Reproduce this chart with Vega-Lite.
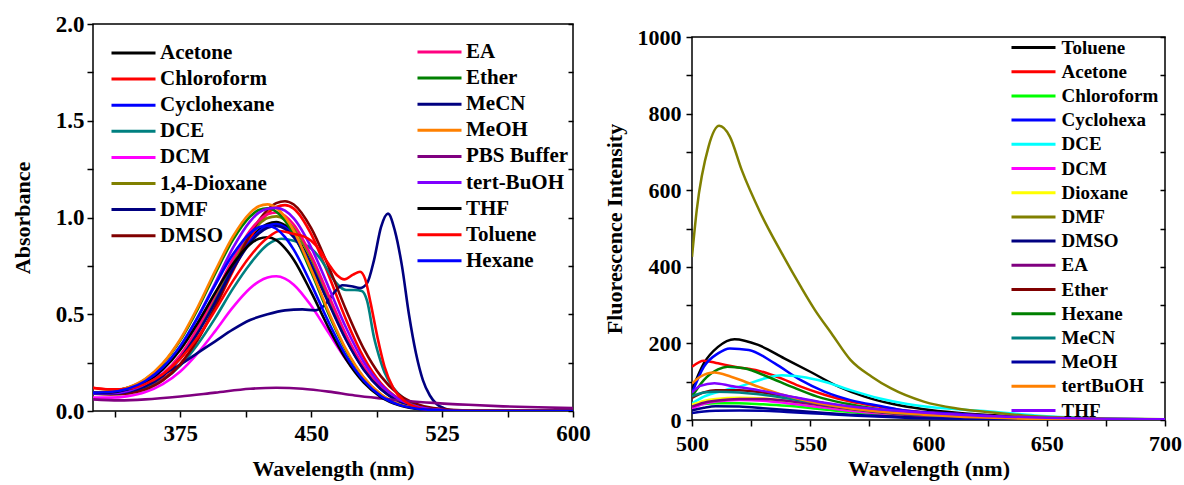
{
  "$schema": "https://vega.github.io/schema/vega-lite/v6.json",
  "background": "white",
  "padding": {"left": 10, "top": 12, "right": 5, "bottom": 0},
  "spacing": 11,
  "config": {
    "font": "Liberation Serif",
    "view": {"stroke": "black", "strokeWidth": 1.5},
    "axis": {
      "labelFont": "Liberation Serif", "labelFontWeight": "bold", "labelColor": "black",
      "titleFont": "Liberation Serif", "titleFontWeight": "bold", "titleColor": "black",
      "tickColor": "black", "tickWidth": 1.5, "tickSize": 6, "grid": false, "domain": false,
      "labelFlush": false, "labelOverlap": false
    },
    "legend": {
      "labelFont": "Liberation Serif", "labelFontWeight": "bold", "labelColor": "black",
      "padding": 0, "direction": "vertical", "orient": "none", "title": null,
      "symbolType": "M-2.5,0H2.5", "symbolStrokeWidth": 3, "symbolSize": 310
    }
  },
  "datasets": {
    "absorbance": [
      {"s":"Acetone","nm":325,"a":0.091},{"s":"Acetone","nm":335,"a":0.091},{"s":"Acetone","nm":345,"a":0.100},{"s":"Acetone","nm":355,"a":0.129},{"s":"Acetone","nm":365,"a":0.185},{"s":"Acetone","nm":375,"a":0.277},{"s":"Acetone","nm":385,"a":0.411},{"s":"Acetone","nm":395,"a":0.575},{"s":"Acetone","nm":405,"a":0.745},{"s":"Acetone","nm":415,"a":0.887},{"s":"Acetone","nm":420,"a":0.936},{"s":"Acetone","nm":425,"a":0.967},{"s":"Acetone","nm":430,"a":0.976},{"s":"Acetone","nm":435,"a":0.959},{"s":"Acetone","nm":440,"a":0.917},{"s":"Acetone","nm":450,"a":0.764},{"s":"Acetone","nm":460,"a":0.568},{"s":"Acetone","nm":470,"a":0.374},{"s":"Acetone","nm":480,"a":0.219},{"s":"Acetone","nm":490,"a":0.114},{"s":"Acetone","nm":500,"a":0.052},{"s":"Acetone","nm":510,"a":0.021},{"s":"Acetone","nm":520,"a":0.008},{"s":"Acetone","nm":540,"a":0},{"s":"Acetone","nm":600,"a":0},
      {"s":"Chloroform","nm":325,"a":0.119},{"s":"Chloroform","nm":335,"a":0.111},{"s":"Chloroform","nm":345,"a":0.110},{"s":"Chloroform","nm":355,"a":0.126},{"s":"Chloroform","nm":365,"a":0.166},{"s":"Chloroform","nm":375,"a":0.244},{"s":"Chloroform","nm":385,"a":0.368},{"s":"Chloroform","nm":395,"a":0.534},{"s":"Chloroform","nm":405,"a":0.720},{"s":"Chloroform","nm":415,"a":0.894},{"s":"Chloroform","nm":420,"a":0.966},{"s":"Chloroform","nm":425,"a":1.020},{"s":"Chloroform","nm":430,"a":1.054},{"s":"Chloroform","nm":435,"a":1.064},{"s":"Chloroform","nm":440,"a":1.046},{"s":"Chloroform","nm":450,"a":0.914},{"s":"Chloroform","nm":460,"a":0.702},{"s":"Chloroform","nm":470,"a":0.472},{"s":"Chloroform","nm":480,"a":0.278},{"s":"Chloroform","nm":490,"a":0.143},{"s":"Chloroform","nm":500,"a":0.065},{"s":"Chloroform","nm":510,"a":0.025},{"s":"Chloroform","nm":520,"a":0.008},{"s":"Chloroform","nm":540,"a":0},{"s":"Chloroform","nm":600,"a":0},
      {"s":"Cyclohexane","nm":325,"a":0.091},{"s":"Cyclohexane","nm":335,"a":0.090},{"s":"Cyclohexane","nm":345,"a":0.100},{"s":"Cyclohexane","nm":355,"a":0.128},{"s":"Cyclohexane","nm":365,"a":0.183},{"s":"Cyclohexane","nm":375,"a":0.274},{"s":"Cyclohexane","nm":385,"a":0.407},{"s":"Cyclohexane","nm":395,"a":0.569},{"s":"Cyclohexane","nm":405,"a":0.738},{"s":"Cyclohexane","nm":415,"a":0.878},{"s":"Cyclohexane","nm":420,"a":0.927},{"s":"Cyclohexane","nm":425,"a":0.957},{"s":"Cyclohexane","nm":430,"a":0.966},{"s":"Cyclohexane","nm":435,"a":0.950},{"s":"Cyclohexane","nm":440,"a":0.907},{"s":"Cyclohexane","nm":450,"a":0.756},{"s":"Cyclohexane","nm":460,"a":0.563},{"s":"Cyclohexane","nm":470,"a":0.371},{"s":"Cyclohexane","nm":480,"a":0.217},{"s":"Cyclohexane","nm":490,"a":0.113},{"s":"Cyclohexane","nm":500,"a":0.052},{"s":"Cyclohexane","nm":510,"a":0.021},{"s":"Cyclohexane","nm":520,"a":0.008},{"s":"Cyclohexane","nm":540,"a":0},{"s":"Cyclohexane","nm":600,"a":0},
      {"s":"DCE","nm":325,"a":0.095},{"s":"DCE","nm":335,"a":0.090},{"s":"DCE","nm":345,"a":0.095},{"s":"DCE","nm":355,"a":0.115},{"s":"DCE","nm":365,"a":0.160},{"s":"DCE","nm":375,"a":0.235},{"s":"DCE","nm":385,"a":0.345},{"s":"DCE","nm":395,"a":0.480},{"s":"DCE","nm":405,"a":0.630},{"s":"DCE","nm":415,"a":0.760},{"s":"DCE","nm":425,"a":0.860},{"s":"DCE","nm":433,"a":0.890},{"s":"DCE","nm":440,"a":0.880},{"s":"DCE","nm":445,"a":0.865},{"s":"DCE","nm":450,"a":0.840},{"s":"DCE","nm":455,"a":0.790},{"s":"DCE","nm":460,"a":0.720},{"s":"DCE","nm":465,"a":0.655},{"s":"DCE","nm":470,"a":0.625},{"s":"DCE","nm":475,"a":0.625},{"s":"DCE","nm":479,"a":0.620},{"s":"DCE","nm":482,"a":0.570},{"s":"DCE","nm":486,"a":0.380},{"s":"DCE","nm":489,"a":0.280},{"s":"DCE","nm":492,"a":0.200},{"s":"DCE","nm":497,"a":0.120},{"s":"DCE","nm":503,"a":0.065},{"s":"DCE","nm":509,"a":0.030},{"s":"DCE","nm":515,"a":0.013},{"s":"DCE","nm":520,"a":0.006},{"s":"DCE","nm":530,"a":0.002},{"s":"DCE","nm":540,"a":0},{"s":"DCE","nm":600,"a":0},
      {"s":"DCM","nm":325,"a":0.069},{"s":"DCM","nm":335,"a":0.069},{"s":"DCM","nm":345,"a":0.077},{"s":"DCM","nm":355,"a":0.098},{"s":"DCM","nm":365,"a":0.139},{"s":"DCM","nm":375,"a":0.204},{"s":"DCM","nm":385,"a":0.299},{"s":"DCM","nm":395,"a":0.413},{"s":"DCM","nm":405,"a":0.534},{"s":"DCM","nm":415,"a":0.634},{"s":"DCM","nm":420,"a":0.669},{"s":"DCM","nm":425,"a":0.690},{"s":"DCM","nm":430,"a":0.696},{"s":"DCM","nm":435,"a":0.684},{"s":"DCM","nm":440,"a":0.653},{"s":"DCM","nm":450,"a":0.544},{"s":"DCM","nm":460,"a":0.404},{"s":"DCM","nm":470,"a":0.266},{"s":"DCM","nm":480,"a":0.156},{"s":"DCM","nm":490,"a":0.081},{"s":"DCM","nm":500,"a":0.037},{"s":"DCM","nm":510,"a":0.015},{"s":"DCM","nm":520,"a":0.006},{"s":"DCM","nm":540,"a":0},{"s":"DCM","nm":600,"a":0},
      {"s":"1,4-Dioxane","nm":325,"a":0.091},{"s":"1,4-Dioxane","nm":335,"a":0.091},{"s":"1,4-Dioxane","nm":345,"a":0.101},{"s":"1,4-Dioxane","nm":355,"a":0.131},{"s":"1,4-Dioxane","nm":365,"a":0.189},{"s":"1,4-Dioxane","nm":375,"a":0.284},{"s":"1,4-Dioxane","nm":385,"a":0.423},{"s":"1,4-Dioxane","nm":395,"a":0.592},{"s":"1,4-Dioxane","nm":405,"a":0.768},{"s":"1,4-Dioxane","nm":415,"a":0.914},{"s":"1,4-Dioxane","nm":420,"a":0.965},{"s":"1,4-Dioxane","nm":425,"a":0.997},{"s":"1,4-Dioxane","nm":430,"a":1.006},{"s":"1,4-Dioxane","nm":435,"a":0.989},{"s":"1,4-Dioxane","nm":440,"a":0.945},{"s":"1,4-Dioxane","nm":450,"a":0.788},{"s":"1,4-Dioxane","nm":460,"a":0.586},{"s":"1,4-Dioxane","nm":470,"a":0.386},{"s":"1,4-Dioxane","nm":480,"a":0.226},{"s":"1,4-Dioxane","nm":490,"a":0.118},{"s":"1,4-Dioxane","nm":500,"a":0.054},{"s":"1,4-Dioxane","nm":510,"a":0.022},{"s":"1,4-Dioxane","nm":520,"a":0.008},{"s":"1,4-Dioxane","nm":540,"a":0},{"s":"1,4-Dioxane","nm":600,"a":0},
      {"s":"DMF","nm":325,"a":0.09},{"s":"DMF","nm":335,"a":0.10},{"s":"DMF","nm":345,"a":0.12},{"s":"DMF","nm":355,"a":0.15},{"s":"DMF","nm":365,"a":0.19},{"s":"DMF","nm":375,"a":0.24},{"s":"DMF","nm":385,"a":0.30},{"s":"DMF","nm":395,"a":0.36},{"s":"DMF","nm":405,"a":0.42},{"s":"DMF","nm":415,"a":0.47},{"s":"DMF","nm":425,"a":0.50},{"s":"DMF","nm":435,"a":0.52},{"s":"DMF","nm":445,"a":0.525},{"s":"DMF","nm":452,"a":0.52},{"s":"DMF","nm":458,"a":0.55},{"s":"DMF","nm":463,"a":0.61},{"s":"DMF","nm":468,"a":0.65},{"s":"DMF","nm":473,"a":0.645},{"s":"DMF","nm":478,"a":0.635},{"s":"DMF","nm":482,"a":0.66},{"s":"DMF","nm":486,"a":0.78},{"s":"DMF","nm":490,"a":0.95},{"s":"DMF","nm":494,"a":1.02},{"s":"DMF","nm":498,"a":0.93},{"s":"DMF","nm":502,"a":0.75},{"s":"DMF","nm":506,"a":0.50},{"s":"DMF","nm":510,"a":0.30},{"s":"DMF","nm":514,"a":0.16},{"s":"DMF","nm":518,"a":0.08},{"s":"DMF","nm":522,"a":0.035},{"s":"DMF","nm":526,"a":0.015},{"s":"DMF","nm":530,"a":0.005},{"s":"DMF","nm":540,"a":0},{"s":"DMF","nm":600,"a":0},
      {"s":"DMSO","nm":325,"a":0.089},{"s":"DMSO","nm":335,"a":0.086},{"s":"DMSO","nm":345,"a":0.091},{"s":"DMSO","nm":355,"a":0.112},{"s":"DMSO","nm":365,"a":0.158},{"s":"DMSO","nm":375,"a":0.241},{"s":"DMSO","nm":385,"a":0.370},{"s":"DMSO","nm":395,"a":0.540},{"s":"DMSO","nm":405,"a":0.732},{"s":"DMSO","nm":415,"a":0.911},{"s":"DMSO","nm":420,"a":0.984},{"s":"DMSO","nm":425,"a":1.039},{"s":"DMSO","nm":430,"a":1.074},{"s":"DMSO","nm":435,"a":1.084},{"s":"DMSO","nm":440,"a":1.067},{"s":"DMSO","nm":450,"a":0.945},{"s":"DMSO","nm":460,"a":0.745},{"s":"DMSO","nm":470,"a":0.522},{"s":"DMSO","nm":480,"a":0.324},{"s":"DMSO","nm":490,"a":0.179},{"s":"DMSO","nm":500,"a":0.087},{"s":"DMSO","nm":510,"a":0.038},{"s":"DMSO","nm":520,"a":0.015},{"s":"DMSO","nm":540,"a":0.002},{"s":"DMSO","nm":600,"a":0},
      {"s":"EA","nm":325,"a":0.091},{"s":"EA","nm":335,"a":0.091},{"s":"EA","nm":345,"a":0.102},{"s":"EA","nm":355,"a":0.133},{"s":"EA","nm":365,"a":0.192},{"s":"EA","nm":375,"a":0.289},{"s":"EA","nm":385,"a":0.431},{"s":"EA","nm":395,"a":0.603},{"s":"EA","nm":405,"a":0.783},{"s":"EA","nm":415,"a":0.932},{"s":"EA","nm":420,"a":0.984},{"s":"EA","nm":425,"a":1.017},{"s":"EA","nm":430,"a":1.026},{"s":"EA","nm":435,"a":1.009},{"s":"EA","nm":440,"a":0.964},{"s":"EA","nm":450,"a":0.804},{"s":"EA","nm":460,"a":0.598},{"s":"EA","nm":470,"a":0.394},{"s":"EA","nm":480,"a":0.231},{"s":"EA","nm":490,"a":0.120},{"s":"EA","nm":500,"a":0.055},{"s":"EA","nm":510,"a":0.022},{"s":"EA","nm":520,"a":0.008},{"s":"EA","nm":540,"a":0},{"s":"EA","nm":600,"a":0},
      {"s":"Ether","nm":325,"a":0.095},{"s":"Ether","nm":335,"a":0.100},{"s":"Ether","nm":345,"a":0.120},{"s":"Ether","nm":355,"a":0.164},{"s":"Ether","nm":365,"a":0.244},{"s":"Ether","nm":375,"a":0.365},{"s":"Ether","nm":385,"a":0.527},{"s":"Ether","nm":395,"a":0.710},{"s":"Ether","nm":405,"a":0.882},{"s":"Ether","nm":415,"a":1.005},{"s":"Ether","nm":420,"a":1.039},{"s":"Ether","nm":425,"a":1.048},{"s":"Ether","nm":430,"a":1.030},{"s":"Ether","nm":435,"a":0.984},{"s":"Ether","nm":440,"a":0.913},{"s":"Ether","nm":450,"a":0.718},{"s":"Ether","nm":460,"a":0.502},{"s":"Ether","nm":470,"a":0.312},{"s":"Ether","nm":480,"a":0.173},{"s":"Ether","nm":490,"a":0.084},{"s":"Ether","nm":500,"a":0.036},{"s":"Ether","nm":510,"a":0.014},{"s":"Ether","nm":520,"a":0.005},{"s":"Ether","nm":540,"a":0},{"s":"Ether","nm":600,"a":0},
      {"s":"MeCN","nm":325,"a":0.090},{"s":"MeCN","nm":335,"a":0.089},{"s":"MeCN","nm":345,"a":0.099},{"s":"MeCN","nm":355,"a":0.127},{"s":"MeCN","nm":365,"a":0.181},{"s":"MeCN","nm":375,"a":0.272},{"s":"MeCN","nm":385,"a":0.403},{"s":"MeCN","nm":395,"a":0.563},{"s":"MeCN","nm":405,"a":0.730},{"s":"MeCN","nm":415,"a":0.869},{"s":"MeCN","nm":420,"a":0.917},{"s":"MeCN","nm":425,"a":0.947},{"s":"MeCN","nm":430,"a":0.956},{"s":"MeCN","nm":435,"a":0.941},{"s":"MeCN","nm":440,"a":0.899},{"s":"MeCN","nm":450,"a":0.749},{"s":"MeCN","nm":460,"a":0.557},{"s":"MeCN","nm":470,"a":0.367},{"s":"MeCN","nm":480,"a":0.215},{"s":"MeCN","nm":490,"a":0.112},{"s":"MeCN","nm":500,"a":0.051},{"s":"MeCN","nm":510,"a":0.021},{"s":"MeCN","nm":520,"a":0.008},{"s":"MeCN","nm":540,"a":0},{"s":"MeCN","nm":600,"a":0},
      {"s":"MeOH","nm":325,"a":0.096},{"s":"MeOH","nm":335,"a":0.100},{"s":"MeOH","nm":345,"a":0.121},{"s":"MeOH","nm":355,"a":0.166},{"s":"MeOH","nm":365,"a":0.247},{"s":"MeOH","nm":375,"a":0.371},{"s":"MeOH","nm":385,"a":0.537},{"s":"MeOH","nm":395,"a":0.724},{"s":"MeOH","nm":405,"a":0.899},{"s":"MeOH","nm":415,"a":1.024},{"s":"MeOH","nm":420,"a":1.058},{"s":"MeOH","nm":425,"a":1.068},{"s":"MeOH","nm":430,"a":1.050},{"s":"MeOH","nm":435,"a":1.003},{"s":"MeOH","nm":440,"a":0.931},{"s":"MeOH","nm":450,"a":0.731},{"s":"MeOH","nm":460,"a":0.512},{"s":"MeOH","nm":470,"a":0.318},{"s":"MeOH","nm":480,"a":0.176},{"s":"MeOH","nm":490,"a":0.086},{"s":"MeOH","nm":500,"a":0.037},{"s":"MeOH","nm":510,"a":0.014},{"s":"MeOH","nm":520,"a":0.005},{"s":"MeOH","nm":540,"a":0.001},{"s":"MeOH","nm":600,"a":0},
      {"s":"PBS Buffer","nm":325,"a":0.060},{"s":"PBS Buffer","nm":340,"a":0.055},{"s":"PBS Buffer","nm":355,"a":0.060},{"s":"PBS Buffer","nm":375,"a":0.075},{"s":"PBS Buffer","nm":395,"a":0.095},{"s":"PBS Buffer","nm":415,"a":0.115},{"s":"PBS Buffer","nm":430,"a":0.120},{"s":"PBS Buffer","nm":445,"a":0.115},{"s":"PBS Buffer","nm":460,"a":0.100},{"s":"PBS Buffer","nm":475,"a":0.080},{"s":"PBS Buffer","nm":490,"a":0.065},{"s":"PBS Buffer","nm":505,"a":0.052},{"s":"PBS Buffer","nm":520,"a":0.042},{"s":"PBS Buffer","nm":540,"a":0.032},{"s":"PBS Buffer","nm":560,"a":0.024},{"s":"PBS Buffer","nm":580,"a":0.019},{"s":"PBS Buffer","nm":600,"a":0.015},
      {"s":"tert-BuOH","nm":325,"a":0.092},{"s":"tert-BuOH","nm":335,"a":0.092},{"s":"tert-BuOH","nm":345,"a":0.104},{"s":"tert-BuOH","nm":355,"a":0.140},{"s":"tert-BuOH","nm":365,"a":0.215},{"s":"tert-BuOH","nm":375,"a":0.330},{"s":"tert-BuOH","nm":385,"a":0.485},{"s":"tert-BuOH","nm":395,"a":0.660},{"s":"tert-BuOH","nm":405,"a":0.840},{"s":"tert-BuOH","nm":415,"a":0.980},{"s":"tert-BuOH","nm":420,"a":1.025},{"s":"tert-BuOH","nm":425,"a":1.045},{"s":"tert-BuOH","nm":430,"a":1.050},{"s":"tert-BuOH","nm":435,"a":1.035},{"s":"tert-BuOH","nm":440,"a":0.995},{"s":"tert-BuOH","nm":450,"a":0.845},{"s":"tert-BuOH","nm":460,"a":0.640},{"s":"tert-BuOH","nm":470,"a":0.430},{"s":"tert-BuOH","nm":480,"a":0.255},{"s":"tert-BuOH","nm":490,"a":0.135},{"s":"tert-BuOH","nm":500,"a":0.062},{"s":"tert-BuOH","nm":510,"a":0.025},{"s":"tert-BuOH","nm":520,"a":0.009},{"s":"tert-BuOH","nm":540,"a":0},{"s":"tert-BuOH","nm":600,"a":0},
      {"s":"THF","nm":325,"a":0.094},{"s":"THF","nm":335,"a":0.096},{"s":"THF","nm":345,"a":0.112},{"s":"THF","nm":355,"a":0.148},{"s":"THF","nm":365,"a":0.215},{"s":"THF","nm":375,"a":0.317},{"s":"THF","nm":385,"a":0.455},{"s":"THF","nm":395,"a":0.611},{"s":"THF","nm":405,"a":0.757},{"s":"THF","nm":415,"a":0.862},{"s":"THF","nm":420,"a":0.890},{"s":"THF","nm":425,"a":0.898},{"s":"THF","nm":430,"a":0.883},{"s":"THF","nm":435,"a":0.842},{"s":"THF","nm":440,"a":0.782},{"s":"THF","nm":450,"a":0.614},{"s":"THF","nm":460,"a":0.430},{"s":"THF","nm":470,"a":0.267},{"s":"THF","nm":480,"a":0.148},{"s":"THF","nm":490,"a":0.072},{"s":"THF","nm":500,"a":0.031},{"s":"THF","nm":510,"a":0.012},{"s":"THF","nm":520,"a":0.005},{"s":"THF","nm":540,"a":0},{"s":"THF","nm":600,"a":0},
      {"s":"Toluene","nm":325,"a":0.120},{"s":"Toluene","nm":335,"a":0.112},{"s":"Toluene","nm":345,"a":0.115},{"s":"Toluene","nm":355,"a":0.140},{"s":"Toluene","nm":365,"a":0.190},{"s":"Toluene","nm":375,"a":0.270},{"s":"Toluene","nm":385,"a":0.380},{"s":"Toluene","nm":395,"a":0.520},{"s":"Toluene","nm":405,"a":0.670},{"s":"Toluene","nm":415,"a":0.800},{"s":"Toluene","nm":425,"a":0.895},{"s":"Toluene","nm":432,"a":0.930},{"s":"Toluene","nm":440,"a":0.915},{"s":"Toluene","nm":445,"a":0.905},{"s":"Toluene","nm":450,"a":0.880},{"s":"Toluene","nm":455,"a":0.830},{"s":"Toluene","nm":460,"a":0.760},{"s":"Toluene","nm":465,"a":0.700},{"s":"Toluene","nm":469,"a":0.680},{"s":"Toluene","nm":474,"a":0.705},{"s":"Toluene","nm":478,"a":0.720},{"s":"Toluene","nm":481,"a":0.680},{"s":"Toluene","nm":484,"a":0.560},{"s":"Toluene","nm":488,"a":0.380},{"s":"Toluene","nm":492,"a":0.230},{"s":"Toluene","nm":497,"a":0.120},{"s":"Toluene","nm":503,"a":0.055},{"s":"Toluene","nm":510,"a":0.020},{"s":"Toluene","nm":518,"a":0.005},{"s":"Toluene","nm":540,"a":0},{"s":"Toluene","nm":600,"a":0},
      {"s":"Hexane","nm":325,"a":0.095},{"s":"Hexane","nm":335,"a":0.098},{"s":"Hexane","nm":345,"a":0.115},{"s":"Hexane","nm":355,"a":0.155},{"s":"Hexane","nm":365,"a":0.226},{"s":"Hexane","nm":375,"a":0.336},{"s":"Hexane","nm":385,"a":0.484},{"s":"Hexane","nm":395,"a":0.651},{"s":"Hexane","nm":405,"a":0.807},{"s":"Hexane","nm":415,"a":0.919},{"s":"Hexane","nm":420,"a":0.950},{"s":"Hexane","nm":425,"a":0.958},{"s":"Hexane","nm":430,"a":0.942},{"s":"Hexane","nm":435,"a":0.899},{"s":"Hexane","nm":440,"a":0.834},{"s":"Hexane","nm":450,"a":0.656},{"s":"Hexane","nm":460,"a":0.459},{"s":"Hexane","nm":470,"a":0.285},{"s":"Hexane","nm":480,"a":0.158},{"s":"Hexane","nm":490,"a":0.077},{"s":"Hexane","nm":500,"a":0.033},{"s":"Hexane","nm":510,"a":0.013},{"s":"Hexane","nm":520,"a":0.005},{"s":"Hexane","nm":540,"a":0},{"s":"Hexane","nm":600,"a":0}
    ],
    "fluorescence": [
      {"s":"Toluene","nm":500,"f":78},{"s":"Toluene","nm":505,"f":148},{"s":"Toluene","nm":511,"f":191},{"s":"Toluene","nm":518,"f":211},{"s":"Toluene","nm":528,"f":196},{"s":"Toluene","nm":539,"f":161},{"s":"Toluene","nm":550,"f":126},{"s":"Toluene","nm":562,"f":87},{"s":"Toluene","nm":573,"f":61},{"s":"Toluene","nm":584,"f":43},{"s":"Toluene","nm":598,"f":28},{"s":"Toluene","nm":612,"f":19},{"s":"Toluene","nm":626,"f":13},{"s":"Toluene","nm":650,"f":5},{"s":"Toluene","nm":675,"f":2},{"s":"Toluene","nm":700,"f":1},
      {"s":"Acetone","nm":500,"f":139},{"s":"Acetone","nm":505,"f":155},{"s":"Acetone","nm":511,"f":148},{"s":"Acetone","nm":518,"f":139},{"s":"Acetone","nm":528,"f":129},{"s":"Acetone","nm":538,"f":108},{"s":"Acetone","nm":546,"f":87},{"s":"Acetone","nm":556,"f":66},{"s":"Acetone","nm":567,"f":48},{"s":"Acetone","nm":579,"f":35},{"s":"Acetone","nm":591,"f":24},{"s":"Acetone","nm":612,"f":16},{"s":"Acetone","nm":630,"f":9},{"s":"Acetone","nm":650,"f":4},{"s":"Acetone","nm":700,"f":1},
      {"s":"Chloroform","nm":500,"f":38},{"s":"Chloroform","nm":505,"f":42},{"s":"Chloroform","nm":510,"f":44},{"s":"Chloroform","nm":520,"f":44},{"s":"Chloroform","nm":530,"f":41},{"s":"Chloroform","nm":540,"f":37},{"s":"Chloroform","nm":555,"f":28},{"s":"Chloroform","nm":570,"f":19},{"s":"Chloroform","nm":590,"f":11},{"s":"Chloroform","nm":620,"f":5},{"s":"Chloroform","nm":650,"f":2},{"s":"Chloroform","nm":700,"f":0},
      {"s":"Cyclohexa","nm":500,"f":70},{"s":"Cyclohexa","nm":505,"f":139},{"s":"Cyclohexa","nm":511,"f":174},{"s":"Cyclohexa","nm":516,"f":187},{"s":"Cyclohexa","nm":524,"f":183},{"s":"Cyclohexa","nm":535,"f":148},{"s":"Cyclohexa","nm":546,"f":104},{"s":"Cyclohexa","nm":556,"f":74},{"s":"Cyclohexa","nm":567,"f":52},{"s":"Cyclohexa","nm":579,"f":37},{"s":"Cyclohexa","nm":591,"f":24},{"s":"Cyclohexa","nm":612,"f":16},{"s":"Cyclohexa","nm":630,"f":9},{"s":"Cyclohexa","nm":650,"f":4},{"s":"Cyclohexa","nm":700,"f":1},
      {"s":"DCE","nm":500,"f":43},{"s":"DCE","nm":505,"f":61},{"s":"DCE","nm":514,"f":78},{"s":"DCE","nm":522,"f":91},{"s":"DCE","nm":531,"f":109},{"s":"DCE","nm":538,"f":117},{"s":"DCE","nm":546,"f":113},{"s":"DCE","nm":556,"f":100},{"s":"DCE","nm":567,"f":78},{"s":"DCE","nm":579,"f":57},{"s":"DCE","nm":591,"f":42},{"s":"DCE","nm":612,"f":28},{"s":"DCE","nm":626,"f":22},{"s":"DCE","nm":645,"f":12},{"s":"DCE","nm":660,"f":7},{"s":"DCE","nm":680,"f":3},{"s":"DCE","nm":700,"f":2},
      {"s":"DCM","nm":500,"f":30},{"s":"DCM","nm":505,"f":42},{"s":"DCM","nm":510,"f":48},{"s":"DCM","nm":520,"f":52},{"s":"DCM","nm":530,"f":50},{"s":"DCM","nm":540,"f":44},{"s":"DCM","nm":555,"f":33},{"s":"DCM","nm":570,"f":22},{"s":"DCM","nm":590,"f":12},{"s":"DCM","nm":620,"f":5},{"s":"DCM","nm":650,"f":2},{"s":"DCM","nm":700,"f":0},
      {"s":"Dioxane","nm":500,"f":40},{"s":"Dioxane","nm":505,"f":50},{"s":"Dioxane","nm":510,"f":55},{"s":"Dioxane","nm":520,"f":58},{"s":"Dioxane","nm":530,"f":56},{"s":"Dioxane","nm":540,"f":50},{"s":"Dioxane","nm":555,"f":38},{"s":"Dioxane","nm":570,"f":26},{"s":"Dioxane","nm":590,"f":14},{"s":"Dioxane","nm":620,"f":6},{"s":"Dioxane","nm":650,"f":2},{"s":"Dioxane","nm":700,"f":0},
      {"s":"DMF","nm":500,"f":426},{"s":"DMF","nm":502,"f":548},{"s":"DMF","nm":507,"f":714},{"s":"DMF","nm":511.5,"f":768},{"s":"DMF","nm":516,"f":740},{"s":"DMF","nm":521,"f":653},{"s":"DMF","nm":529,"f":540},{"s":"DMF","nm":538,"f":435},{"s":"DMF","nm":546,"f":348},{"s":"DMF","nm":552,"f":287},{"s":"DMF","nm":559,"f":226},{"s":"DMF","nm":567,"f":157},{"s":"DMF","nm":576,"f":113},{"s":"DMF","nm":584,"f":83},{"s":"DMF","nm":598,"f":48},{"s":"DMF","nm":612,"f":30},{"s":"DMF","nm":626,"f":20},{"s":"DMF","nm":640,"f":12},{"s":"DMF","nm":655,"f":7},{"s":"DMF","nm":675,"f":4},{"s":"DMF","nm":700,"f":2},
      {"s":"DMSO","nm":500,"f":25},{"s":"DMSO","nm":505,"f":32},{"s":"DMSO","nm":510,"f":36},{"s":"DMSO","nm":520,"f":35},{"s":"DMSO","nm":530,"f":31},{"s":"DMSO","nm":540,"f":26},{"s":"DMSO","nm":555,"f":19},{"s":"DMSO","nm":570,"f":13},{"s":"DMSO","nm":590,"f":8},{"s":"DMSO","nm":620,"f":3},{"s":"DMSO","nm":650,"f":1},{"s":"DMSO","nm":700,"f":0},
      {"s":"EA","nm":500,"f":35},{"s":"EA","nm":505,"f":45},{"s":"EA","nm":510,"f":50},{"s":"EA","nm":520,"f":55},{"s":"EA","nm":530,"f":55},{"s":"EA","nm":540,"f":50},{"s":"EA","nm":555,"f":38},{"s":"EA","nm":570,"f":26},{"s":"EA","nm":590,"f":14},{"s":"EA","nm":620,"f":6},{"s":"EA","nm":650,"f":2},{"s":"EA","nm":700,"f":0},
      {"s":"Ether","nm":500,"f":58},{"s":"Ether","nm":505,"f":72},{"s":"Ether","nm":510,"f":78},{"s":"Ether","nm":520,"f":78},{"s":"Ether","nm":530,"f":72},{"s":"Ether","nm":540,"f":62},{"s":"Ether","nm":555,"f":45},{"s":"Ether","nm":570,"f":30},{"s":"Ether","nm":590,"f":17},{"s":"Ether","nm":620,"f":8},{"s":"Ether","nm":650,"f":3},{"s":"Ether","nm":700,"f":1},
      {"s":"Hexane","nm":500,"f":61},{"s":"Hexane","nm":505,"f":104},{"s":"Hexane","nm":511,"f":132},{"s":"Hexane","nm":515,"f":139},{"s":"Hexane","nm":522,"f":135},{"s":"Hexane","nm":532,"f":113},{"s":"Hexane","nm":542,"f":87},{"s":"Hexane","nm":553,"f":61},{"s":"Hexane","nm":565,"f":43},{"s":"Hexane","nm":579,"f":28},{"s":"Hexane","nm":598,"f":17},{"s":"Hexane","nm":620,"f":9},{"s":"Hexane","nm":650,"f":3},{"s":"Hexane","nm":700,"f":1},
      {"s":"MeCN","nm":500,"f":62},{"s":"MeCN","nm":505,"f":72},{"s":"MeCN","nm":510,"f":74},{"s":"MeCN","nm":520,"f":72},{"s":"MeCN","nm":530,"f":66},{"s":"MeCN","nm":540,"f":57},{"s":"MeCN","nm":555,"f":42},{"s":"MeCN","nm":570,"f":28},{"s":"MeCN","nm":590,"f":16},{"s":"MeCN","nm":620,"f":7},{"s":"MeCN","nm":650,"f":3},{"s":"MeCN","nm":700,"f":1},
      {"s":"MeOH","nm":500,"f":18},{"s":"MeOH","nm":505,"f":22},{"s":"MeOH","nm":510,"f":24},{"s":"MeOH","nm":520,"f":25},{"s":"MeOH","nm":530,"f":24},{"s":"MeOH","nm":540,"f":21},{"s":"MeOH","nm":555,"f":16},{"s":"MeOH","nm":570,"f":11},{"s":"MeOH","nm":590,"f":6},{"s":"MeOH","nm":620,"f":3},{"s":"MeOH","nm":650,"f":1},{"s":"MeOH","nm":700,"f":0},
      {"s":"tertBuOH","nm":500,"f":95},{"s":"tertBuOH","nm":503.5,"f":113},{"s":"tertBuOH","nm":509.5,"f":124},{"s":"tertBuOH","nm":516.5,"f":113},{"s":"tertBuOH","nm":528,"f":87},{"s":"tertBuOH","nm":539,"f":65},{"s":"tertBuOH","nm":550,"f":48},{"s":"tertBuOH","nm":564,"f":33},{"s":"tertBuOH","nm":579,"f":22},{"s":"tertBuOH","nm":598,"f":14},{"s":"tertBuOH","nm":620,"f":7},{"s":"tertBuOH","nm":650,"f":3},{"s":"tertBuOH","nm":700,"f":1},
      {"s":"THF","nm":500,"f":72},{"s":"THF","nm":503.5,"f":89},{"s":"THF","nm":509.5,"f":96},{"s":"THF","nm":516.5,"f":89},{"s":"THF","nm":528,"f":78},{"s":"THF","nm":542,"f":61},{"s":"THF","nm":556,"f":45},{"s":"THF","nm":570,"f":33},{"s":"THF","nm":591,"f":22},{"s":"THF","nm":620,"f":12},{"s":"THF","nm":650,"f":6},{"s":"THF","nm":700,"f":2}
    ]
  },
  "hconcat": [
    {
      "width": 480,
      "height": 387,
      "data": {"name": "absorbance"},
      "layer": [
        {
          "transform": [{"filter": {"field": "s", "oneOf": ["Acetone", "Chloroform", "Cyclohexane", "DCE", "DCM", "1,4-Dioxane", "DMF", "DMSO"]}}],
          "mark": {"type": "line", "interpolate": "monotone", "strokeWidth": 2.6, "clip": true},
          "encoding": {
            "x": {
              "field": "nm", "type": "quantitative",
              "scale": {"domain": [325, 600], "nice": false, "zero": false},
              "axis": {
                "orient": "bottom", "values": [337.5, 375, 412.5, 450, 487.5, 525, 562.5, 600],
                "labelExpr": "datum.value % 75 === 0 ? format(datum.value, 'd') : ''",
                "labelFontSize": 23, "labelBaseline": "alphabetic", "labelPadding": 23,
                "title": "Wavelength (nm)", "titleFontSize": 22, "titleBaseline": "alphabetic", "titleY": 64.5
              }
            },
            "y": {
              "field": "a", "type": "quantitative",
              "scale": {"domain": [0, 2], "nice": false},
              "axis": {
                "orient": "left", "values": [0, 0.25, 0.5, 0.75, 1, 1.25, 1.5, 1.75, 2],
                "labelExpr": "datum.value % 0.5 === 0 ? format(datum.value, '.1f') : ''",
                "labelFontSize": 23, "labelPadding": 3, "labelBaseline": "middle",
                "title": "Absorbance", "titleFontSize": 22, "titleBaseline": "alphabetic", "titleX": -64
              }
            },
            "color": {
              "field": "s", "type": "nominal",
              "scale": {
                "domain": ["Acetone", "Chloroform", "Cyclohexane", "DCE", "DCM", "1,4-Dioxane", "DMF", "DMSO"],
                "range": ["#000000", "#ff0000", "#0000ff", "#008080", "#ff00ff", "#808000", "#000080", "#800000"]
              },
              "legend": {"legendX": 30, "legendY": 18.5, "labelFontSize": 21, "rowPadding": 4.1, "labelOffset": 16}
            }
          }
        },
        {
          "transform": [{"filter": {"field": "s", "oneOf": ["EA", "Ether", "MeCN", "MeOH", "PBS Buffer", "tert-BuOH", "THF", "Toluene", "Hexane"]}}],
          "mark": {"type": "line", "interpolate": "monotone", "strokeWidth": 2.6, "clip": true},
          "encoding": {
            "x": {"field": "nm", "type": "quantitative", "scale": {"domain": [325, 600], "nice": false, "zero": false}},
            "y": {
              "field": "a", "type": "quantitative",
              "scale": {"domain": [0, 2], "nice": false},
              "axis": {"orient": "right", "values": [0, 0.25, 0.5, 0.75, 1, 1.25, 1.5, 1.75, 2], "labels": false, "tickSize": -5, "title": null}
            },
            "color": {
              "field": "s", "type": "nominal",
              "scale": {
                "domain": ["EA", "Ether", "MeCN", "MeOH", "PBS Buffer", "tert-BuOH", "THF", "Toluene", "Hexane"],
                "range": ["#ff0080", "#008000", "#000080", "#ff8000", "#800080", "#8000ff", "#000000", "#ff0000", "#0000ff"]
              },
              "legend": {"legendX": 336, "legendY": 17.5, "labelFontSize": 21, "rowPadding": 4.1, "labelOffset": 16}
            }
          }
        }
      ],
      "resolve": {"scale": {"color": "independent"}, "axis": {"y": "independent"}, "legend": {"color": "independent"}}
    },
    {
      "spacing": 0,
      "vconcat": [
        {
          "width": 10,
          "height": 1,
          "view": {"stroke": null},
          "data": {"values": []},
          "mark": "point"
        },
        {
          "width": 473,
          "height": 383,
          "data": {"name": "fluorescence"},
          "layer": [
            {
              "transform": [{"filter": {"field": "s", "oneOf": ["Toluene", "Acetone", "Chloroform", "Cyclohexa", "DCE", "DCM", "Dioxane", "DMF"]}}],
              "mark": {"type": "line", "interpolate": "monotone", "strokeWidth": 2.5, "clip": true},
              "encoding": {
                "x": {
                  "field": "nm", "type": "quantitative",
                  "scale": {"domain": [500, 700], "nice": false, "zero": false},
                  "axis": {
                    "orient": "bottom", "values": [500, 525, 550, 575, 600, 625, 650, 675, 700],
                    "labelExpr": "datum.value % 50 === 0 ? format(datum.value, 'd') : ''",
                    "labelFontSize": 22, "labelBaseline": "alphabetic", "labelPadding": 24,
                    "title": "Wavelength (nm)", "titleFontSize": 22, "titleBaseline": "alphabetic", "titleY": 55.5
                  }
                },
                "y": {
                  "field": "f", "type": "quantitative",
                  "scale": {"domain": [0, 1000], "nice": false},
                  "axis": {
                    "orient": "left", "values": [0, 100, 200, 300, 400, 500, 600, 700, 800, 900, 1000],
                    "labelExpr": "datum.value % 200 === 0 ? format(datum.value, 'd') : ''",
                    "labelFontSize": 22, "labelPadding": 5, "labelBaseline": "middle",
                    "title": "Fluorescence Intensity", "titleFontSize": 22, "titleBaseline": "alphabetic", "titleX": -71
                  }
                },
                "color": {
                  "field": "s", "type": "nominal",
                  "scale": {
                    "domain": ["Toluene", "Acetone", "Chloroform", "Cyclohexa", "DCE", "DCM", "Dioxane", "DMF", "DMSO", "EA", "Ether", "Hexane", "MeCN", "MeOH", "tertBuOH", "THF"],
                    "range": ["#000000", "#ff0000", "#00ff00", "#0000ff", "#00ffff", "#ff00ff", "#ffff00", "#808000", "#000080", "#800080", "#800000", "#008000", "#008080", "#0000a0", "#ff8000", "#8000ff"]
                  },
                  "legend": {"legendX": 930, "legendY": 13, "labelFontSize": 19, "rowPadding": 3.2, "labelOffset": 17.5}
                }
              }
            },
            {
              "transform": [{"filter": {"field": "s", "oneOf": ["DMSO", "EA", "Ether", "Hexane", "MeCN", "MeOH", "tertBuOH", "THF"]}}],
              "mark": {"type": "line", "interpolate": "monotone", "strokeWidth": 2.5, "clip": true},
              "encoding": {
                "x": {"field": "nm", "type": "quantitative", "scale": {"domain": [500, 700], "nice": false, "zero": false}},
                "y": {
                  "field": "f", "type": "quantitative",
                  "scale": {"domain": [0, 1000], "nice": false},
                  "axis": {"orient": "right", "values": [0, 100, 200, 300, 400, 500, 600, 700, 800, 900, 1000], "labels": false, "tickSize": -5, "title": null}
                },
                "color": {
                  "field": "s", "type": "nominal",
                  "scale": {
                    "domain": ["Toluene", "Acetone", "Chloroform", "Cyclohexa", "DCE", "DCM", "Dioxane", "DMF", "DMSO", "EA", "Ether", "Hexane", "MeCN", "MeOH", "tertBuOH", "THF"],
                    "range": ["#000000", "#ff0000", "#00ff00", "#0000ff", "#00ffff", "#ff00ff", "#ffff00", "#808000", "#000080", "#800080", "#800000", "#008000", "#008080", "#0000a0", "#ff8000", "#8000ff"]
                  },
                  "legend": {"legendX": 930, "legendY": 13, "labelFontSize": 19, "rowPadding": 3.2, "labelOffset": 17.5}
                }
              }
            }
          ],
          "resolve": {"axis": {"y": "independent"}}
        }
      ]
    }
  ]
}
